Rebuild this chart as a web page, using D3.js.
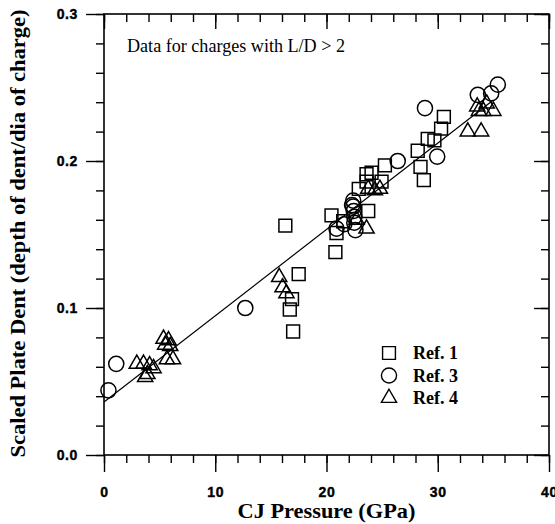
<!DOCTYPE html>
<html>
<head>
<meta charset="utf-8">
<script src="https://cdn.jsdelivr.net/npm/d3@7"></script>
<style>
  body { margin: 0; background: #fff; }
  svg { display: block; font-family: "Liberation Serif", "Times New Roman", serif; }
</style>
</head>
<body>
<script>
// plate dent vs CJ pressure

const ref1 = [ // squares
    [16.3, 0.156], [17.5, 0.123], [16.9, 0.106], [16.7, 0.099], [17.0, 0.084],
    [20.45, 0.163], [20.9, 0.151], [20.8, 0.138], [21.5, 0.159],
    [23.75, 0.166], [22.9, 0.181], [23.6, 0.191], [24.05, 0.192], [24.95, 0.186],
    [23.6, 0.186], [25.25, 0.197],
    [28.2, 0.207], [28.45, 0.196], [28.75, 0.187], [29.1, 0.215], [29.7, 0.214],
    [30.3, 0.222], [30.55, 0.230]
];

const ref3 = [ // circles
    [0.4, 0.044], [1.1, 0.062], [12.7, 0.100], [20.9, 0.154], [21.6, 0.157],
    [22.4, 0.173], [22.3, 0.170], [22.4, 0.169], [22.45, 0.166], [22.5, 0.162],
    [22.5, 0.158], [22.6, 0.153],
    [26.4, 0.200], [28.85, 0.236], [29.95, 0.203],
    [33.6, 0.245], [34.8, 0.246], [35.4, 0.252]
];

const ref4 = [ // triangles
    [2.95, 0.062], [3.55, 0.062], [4.1, 0.061], [4.45, 0.059], [3.7, 0.053], [3.9, 0.055],
    [5.35, 0.079], [5.8, 0.078], [5.5, 0.075], [5.95, 0.074], [5.65, 0.065], [6.2, 0.065],
    [15.75, 0.121], [16.05, 0.114], [16.4, 0.110],
    [23.6, 0.154], [22.7, 0.160],
    [23.75, 0.181], [24.35, 0.180], [24.8, 0.181],
    [32.7, 0.220], [33.9, 0.220], [33.55, 0.237], [33.7, 0.234], [34.1, 0.234],
    [34.4, 0.239], [35.0, 0.234]
];

const fitLine = [[0, 0.036], [35, 0.2415]];

const xMajorTicks = [0, 10, 20, 30, 40];
const xMinorTicks = d3.range(0, 41, 2);
const yMajorTicks = [0, 0.1, 0.2, 0.3];
const yMinorTicks = d3.range(0, 0.301, 0.02);

const legendLabels = ["Ref. 1", "Ref. 3", "Ref. 4"];
const annotation = "Data for charges with L/D > 2";
const xTitle = "CJ Pressure (GPa)";
const yTitle = "Scaled Plate Dent (depth of dent/dia of charge)";


const DIM = { width: 555, height: 524, left: 104, right: 549, top: 14, bottom: 455 };

const svg = d3.select("body").append("svg")
    .attr("width", DIM.width)
    .attr("height", DIM.height);

const x = d3.scaleLinear([0, 40], [DIM.left, DIM.right]);
const y = d3.scaleLinear([0, 0.3], [DIM.bottom, DIM.top]);

const symbols = [
    d3.symbol(d3.symbolSquare, 165),
    d3.symbol(d3.symbolCircle, 180),
    d3.symbol(d3.symbolTriangle, 100)
];

// axes: major/minor ticks drawn as separate axes
const axisStyle = g => {
    g.select(".domain").remove();
    g.selectAll(".tick line").attr("stroke", "#000").attr("stroke-width", 1.4);
};
const labelStyle = g => g.selectAll(".tick text")
    .attr("fill", "#000")
    .attr("font-size", 14)
    .attr("font-weight", "bold")
    .attr("stroke", "#000")
    .attr("stroke-width", 0.4)
    .attr("letter-spacing", 0.6);

// bottom (outward)
svg.append("g").attr("transform", `translate(0,${DIM.bottom})`)
    .call(d3.axisBottom(x).tickValues(xMinorTicks).tickSize(8).tickFormat(""))
    .call(axisStyle);
svg.append("g").attr("transform", `translate(0,${DIM.bottom})`)
    .call(d3.axisBottom(x).tickValues(xMajorTicks).tickSize(17).tickPadding(15).tickFormat(d3.format("d")))
    .call(axisStyle).call(labelStyle);

// top (inward)
svg.append("g").attr("transform", `translate(0,${DIM.top})`)
    .call(d3.axisBottom(x).tickValues(xMinorTicks).tickSize(8).tickFormat(""))
    .call(axisStyle);
svg.append("g").attr("transform", `translate(0,${DIM.top})`)
    .call(d3.axisBottom(x).tickValues(xMajorTicks).tickSize(15).tickFormat(""))
    .call(axisStyle);

// left (outward)
svg.append("g").attr("transform", `translate(${DIM.left},0)`)
    .call(d3.axisLeft(y).tickValues(yMinorTicks).tickSize(8).tickFormat(""))
    .call(axisStyle);
svg.append("g").attr("transform", `translate(${DIM.left},0)`)
    .call(d3.axisLeft(y).tickValues(yMajorTicks).tickSize(18).tickPadding(8).tickFormat(d3.format(".1f")))
    .call(axisStyle).call(labelStyle);

// right (inward)
svg.append("g").attr("transform", `translate(${DIM.right},0)`)
    .call(d3.axisLeft(y).tickValues(yMinorTicks).tickSize(8).tickFormat(""))
    .call(axisStyle);
svg.append("g").attr("transform", `translate(${DIM.right},0)`)
    .call(d3.axisLeft(y).tickValues(yMajorTicks).tickSize(15).tickFormat(""))
    .call(axisStyle);

// frame
svg.append("rect")
    .attr("x", DIM.left).attr("y", DIM.top)
    .attr("width", DIM.right - DIM.left).attr("height", DIM.bottom - DIM.top)
    .attr("fill", "none").attr("stroke", "#000").attr("stroke-width", 1.6);

// fitted line
svg.append("path")
    .datum(fitLine)
    .attr("fill", "none").attr("stroke", "#000").attr("stroke-width", 1.2)
    .attr("d", d3.line().x(d => x(d[0])).y(d => y(d[1])));

// markers
[ref1, ref3, ref4].forEach((series, k) => {
    svg.append("g")
        .selectAll("path")
        .data(series)
        .join("path")
        .attr("transform", d => `translate(${x(d[0])},${y(d[1])})`)
        .attr("d", symbols[k])
        .attr("fill", "none")
        .attr("stroke", "#000")
        .attr("stroke-width", 1.5);
});

// annotation
svg.append("text")
    .attr("x", 127).attr("y", 52)
    .attr("font-size", 18)
    .attr("textLength", 218)
    .attr("lengthAdjust", "spacingAndGlyphs")
    .text(annotation);

// legend
const legend = svg.append("g").selectAll("g")
    .data(legendLabels)
    .join("g")
    .attr("transform", (d, i) => `translate(389,${353 + i * 22.5})`);
legend.append("path")
    .attr("d", (d, i) => symbols[i]())
    .attr("fill", "none").attr("stroke", "#000").attr("stroke-width", 1.4);
legend.append("text")
    .attr("x", 24).attr("y", 6)
    .attr("font-size", 18)
    .attr("font-weight", "bold")
    .text(d => d);

// axis titles
svg.append("text")
    .attr("x", (DIM.left + DIM.right) / 2).attr("y", 518)
    .attr("text-anchor", "middle")
    .attr("font-size", 21)
    .attr("font-weight", "bold")
    .attr("textLength", 178)
    .attr("lengthAdjust", "spacingAndGlyphs")
    .text(xTitle);

svg.append("text")
    .attr("transform", `translate(25,${(DIM.top + DIM.bottom) / 2 - 1}) rotate(-90)`)
    .attr("text-anchor", "middle")
    .attr("font-size", 20)
    .attr("font-weight", "bold")
    .attr("textLength", 448)
    .attr("lengthAdjust", "spacingAndGlyphs")
    .text(yTitle);
</script>
</body>
</html>
